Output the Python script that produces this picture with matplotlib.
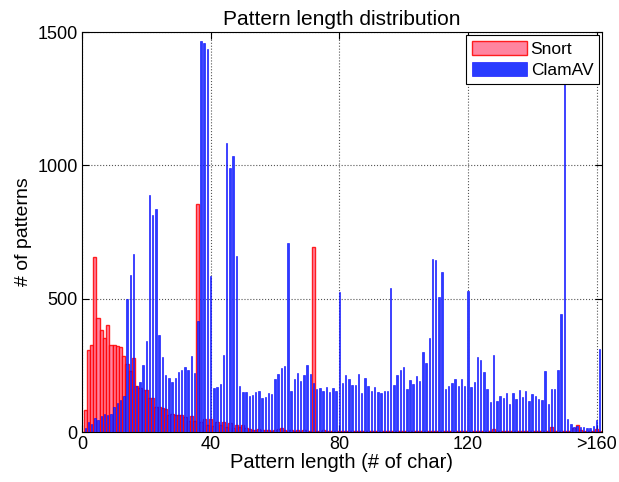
import matplotlib
matplotlib.use('Agg')
import matplotlib.pyplot as plt
import numpy as np

# pattern lengths 1..161 (last bin is ">160")
snort = [82, 307, 326, 655, 426, 382, 351, 402, 325, 325,
         322, 319, 285, 255, 230, 279, 172, 164, 157, 157,
         127, 127, 92, 92, 90, 85, 65, 68, 65, 62,
         62, 57, 42, 60, 40, 855, 37, 47, 27, 47,
         24, 37, 25, 37, 20, 34, 15, 25, 20, 25,
         15, 10, 7, 8, 10, 6, 8, 9, 5, 7,
         10, 16, 6, 5, 8, 4, 6, 5, 7, 4,
         5, 695, 5, 4, 6, 3, 5, 4, 3, 4,
         4, 3, 5, 3, 4, 3, 3, 4, 3, 3,
         4, 3, 3, 2, 3, 4, 3, 2, 3, 3,
         2, 3, 3, 2, 3, 2, 3, 2, 3, 2,
         3, 2, 2, 3, 2, 2, 3, 2, 2, 3,
         2, 3, 2, 2, 3, 2, 2, 10, 2, 3,
         2, 2, 3, 2, 2, 3, 2, 2, 3, 2,
         3, 2, 2, 3, 2, 20, 3, 2, 3, 2,
         3, 4, 15, 25, 6, 3, 2, 3, 4, 10,
         3]

clamav = [14, 37, 30, 51, 45, 60, 69, 65, 67, 92,
          107, 120, 135, 497, 587, 667, 172, 187, 251, 341,
          889, 814, 836, 362, 282, 212, 204, 187, 201, 226,
          233, 244, 231, 286, 222, 416, 1466, 1460, 1436, 586,
          165, 170, 180, 287, 1085, 989, 1035, 660, 172, 150,
          150, 135, 137, 150, 155, 126, 132, 147, 142, 199,
          219, 240, 249, 707, 154, 199, 222, 191, 215, 250,
          219, 185, 161, 165, 155, 169, 151, 165, 155, 525,
          185, 215, 200, 175, 177, 216, 146, 201, 174, 152,
          170, 151, 146, 155, 155, 541, 176, 214, 231, 244,
          161, 195, 180, 211, 192, 301, 259, 354, 650, 644,
          507, 601, 161, 172, 182, 199, 172, 200, 172, 529,
          167, 189, 280, 270, 226, 161, 114, 290, 115, 135,
          127, 145, 106, 145, 124, 159, 130, 152, 116, 144,
          136, 122, 120, 227, 105, 162, 161, 232, 444, 1490,
          47, 30, 20, 22, 17, 17, 16, 16, 22, 45,
          312]

lengths = np.arange(1, len(snort) + 1)
xticks = [0, 40, 80, 120, 160]
xticklabels = ['0', '40', '80', '120', '>160']
yticks = [0, 500, 1000, 1500]

plt.rcParams['font.family'] = ['Liberation Sans', 'DejaVu Sans']

fig = plt.figure(figsize=(6.19, 4.82), dpi=100)
ax = fig.add_axes([0.1325, 0.1037, 0.8400, 0.8299])

ax.bar(lengths, snort, width=1.0, facecolor='#ff7090', edgecolor='red',
       linewidth=1.0, alpha=0.85, label='Snort', zorder=2)
ax.bar(lengths, clamav, width=0.45, facecolor='#2a3cff', edgecolor='blue',
       linewidth=0.4, label='ClamAV', zorder=3)

ax.set_xlim(0, 161.7)
ax.set_ylim(0, 1500)
ax.set_xticks(xticks)
ax.set_xticklabels(xticklabels)
ax.set_yticks(yticks)
ax.tick_params(direction='in', top=True, right=True, labelsize=13, length=5,
               pad=3)
ax.grid(True, linestyle=':', color='#555555', linewidth=0.8, zorder=0)
ax.set_axisbelow(True)

ax.set_title('Pattern length distribution', fontsize=15, pad=5)
ax.set_xlabel('Pattern length (# of char)', fontsize=14.5, labelpad=0)
ax.set_ylabel('# of patterns', fontsize=14, labelpad=4)

leg = ax.legend(loc='upper right', fontsize=12.5, fancybox=False, framealpha=1,
                edgecolor='black', borderaxespad=0.15, handlelength=3.2,
                handleheight=0.9, handletextpad=0.2, borderpad=0.35,
                labelspacing=0.3)
leg.get_frame().set_linewidth(0.8)
leg.set_zorder(10)

fig.savefig('out.png', dpi=100)
